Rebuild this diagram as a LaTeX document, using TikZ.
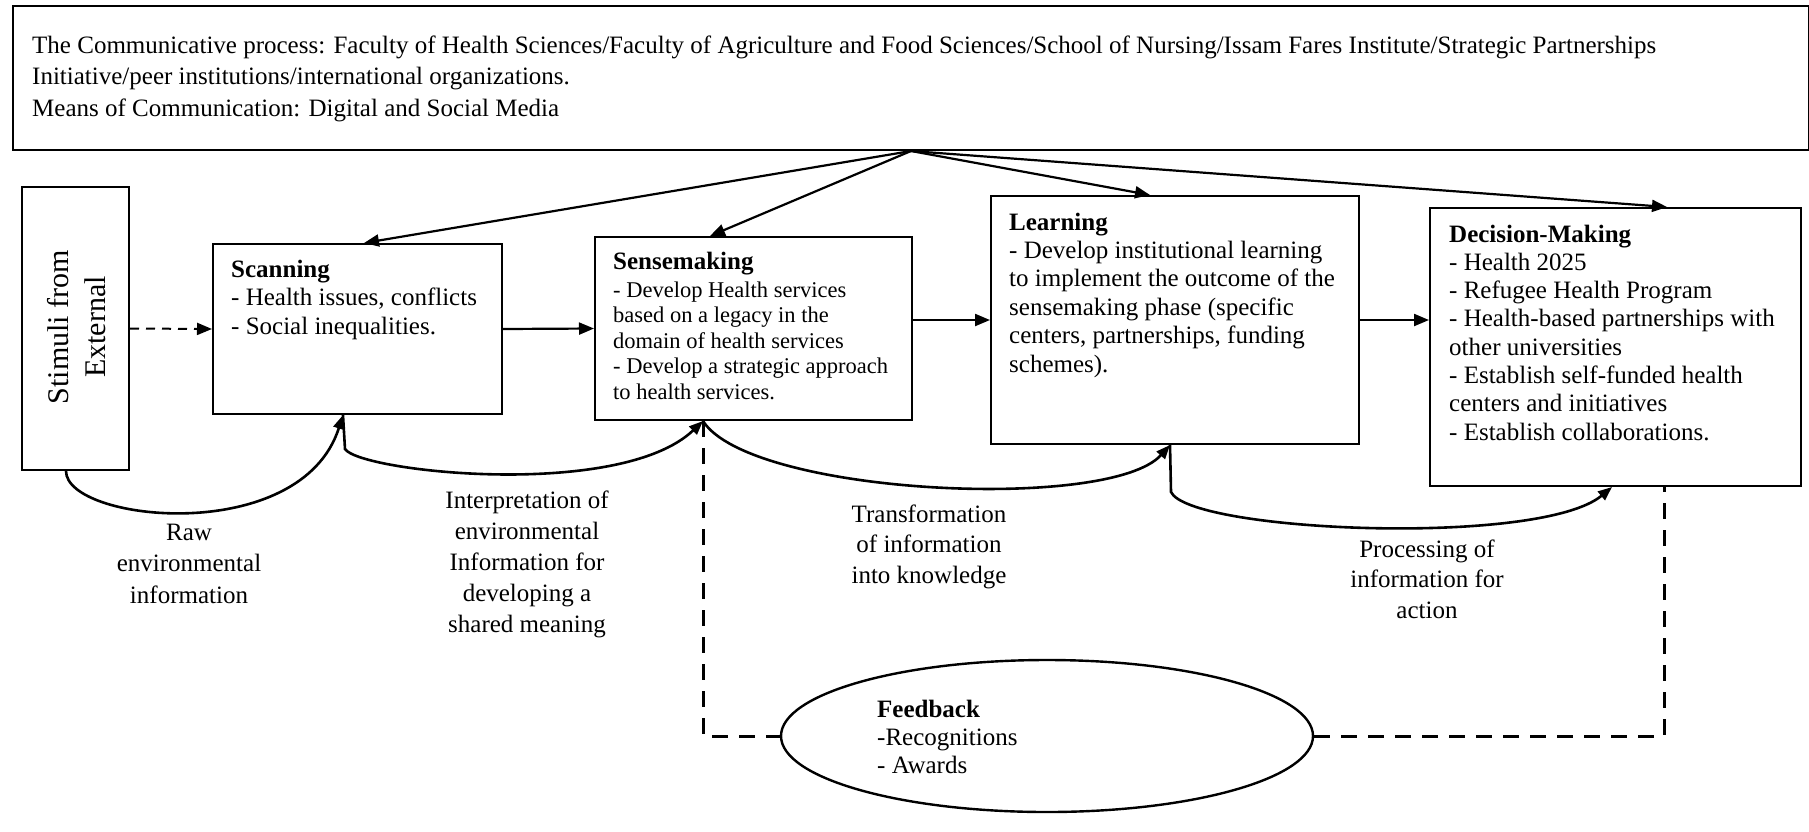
\documentclass[tikz,border=0pt]{standalone}
\usepackage{fontspec}
\setmainfont{Liberation Serif}
\usetikzlibrary{arrows.meta,calc,shapes.geometric}
% text block: size, baseline skip
\newcommand{\blockfont}[2]{\fontsize{#1}{#2}\selectfont\lineskiplimit=-100pt\relax}
\begin{document}
\begin{tikzpicture}[x=1pt,y=-1pt,
  box/.style={draw, line width=2pt, inner sep=0pt, anchor=north west},
  txt/.style={inner sep=0pt, anchor=base west},
  ctxt/.style={inner sep=0pt, anchor=base},
  tip/.style={-{Triangle[length=15pt,width=12pt]}},
  conn/.style={line width=2.2pt, tip},
  loop/.style={line width=2.6pt, -{Triangle[length=14pt,width=11pt]}},
  fbline/.style={line width=3pt, dash pattern=on 16pt off 11pt},
  stimarrow/.style={line width=2pt, dash pattern=on 9pt off 7pt, tip}]
\useasboundingbox (0,0) rectangle (1809,831);

% ---- boxes ----
\node[box, line width=2pt, minimum width=1796pt, minimum height=144pt] (comm) at (12,5) {};
\node[box, minimum width=107pt, minimum height=283pt] (stim) at (21,186) {};
\node[box, minimum width=289pt, minimum height=170pt] (scan) at (212,243) {};
\node[box, minimum width=317pt, minimum height=183pt] (sense) at (594,236) {};
\node[box, minimum width=368pt, minimum height=248pt] (learn) at (990,195) {};
\node[box, minimum width=371pt, minimum height=278pt] (dec) at (1429,207) {};
\node[draw, ellipse, line width=2.4pt, minimum width=532pt, minimum height=152pt, inner sep=0pt] (fbk) at (1047,736) {};

% ---- texts ----
\node[txt] (commtxt) at (32,53) {\parbox[t]{1770pt}{\raggedright\blockfont{25}{31.7}%
The Communicative process: Faculty of Health Sciences/Faculty of Agriculture and Food Sciences/School of Nursing/Issam Fares Institute/Strategic Partnerships\\
Initiative/peer institutions/international organizations.\\
Means of Communication: Digital and Social Media}};

\node[rotate=90, inner sep=0pt] (stimtxt) at (77,327) {\parbox{240pt}{\centering\blockfont{30}{37}Stimuli from\\External}};

\node[txt] (scantxt) at (231,277) {\parbox[t]{280pt}{\raggedright\blockfont{25}{28.5}%
\textbf{Scanning}\\
- Health issues, conflicts\\
- Social inequalities.}};

\node[txt] (sensetxt) at (613,269) {\parbox[t]{300pt}{\raggedright\blockfont{22.5}{25.5}%
{\fontsize{25}{25.5}\selectfont\textbf{Sensemaking}}\\[2.5pt]
- Develop Health services\\
based on a legacy in the\\
domain of health services\\
- Develop a strategic approach\\
to health services.}};

\node[txt] (learntxt) at (1009,230) {\parbox[t]{350pt}{\raggedright\blockfont{25}{28.4}%
\textbf{Learning}\\
- Develop institutional learning\\
to implement the outcome of the\\
sensemaking phase (specific\\
centers, partnerships, funding\\
schemes).}};

\node[txt] (dectxt) at (1449,242) {\parbox[t]{360pt}{\raggedright\blockfont{25}{28.3}%
\textbf{Decision-Making}\\
- Health 2025\\
- Refugee Health Program\\
- Health-based partnerships with\\
other universities\\
- Establish self-funded health\\
centers and initiatives\\
- Establish collaborations.}};

\node[txt] (fbtxt) at (877,717) {\parbox[t]{250pt}{\raggedright\blockfont{25}{28}%
\textbf{Feedback}\\
-Recognitions\\
- Awards}};

\node[ctxt] (rawlbl) at (189,540) {\parbox[t]{220pt}{\centering\blockfont{25}{31.5}%
Raw\\ environmental\\ information}};
\node[ctxt] (interlbl) at (527,508) {\parbox[t]{240pt}{\centering\blockfont{25}{31}%
Interpretation of\\ environmental\\ Information for\\ developing a\\ shared meaning}};
\node[ctxt] (translbl) at (929,522) {\parbox[t]{240pt}{\centering\blockfont{25}{30.5}%
Transformation\\ of information\\ into knowledge}};
\node[ctxt] (proclbl) at (1427,557) {\parbox[t]{240pt}{\centering\blockfont{25}{30.5}%
Processing of\\ information for\\ action}};

% ---- connection points ----
\coordinate (stimB) at ($(stim.south west)+(45,0)$);
\coordinate (scanB) at ($(scan.south west)+(131,0)$);
\coordinate (senseB) at ($(sense.south west)+(109,0)$);
\coordinate (learnB) at ($(learn.south west)+(180,0)$);
\coordinate (decB) at ($(dec.south west)+(183,0)$);
\coordinate (decD) at ($(dec.south west)+(235,0)$);

% ---- arrows from the communicative process ----
\draw[conn] (comm.south) -- ($(scan.north west)+(152,0)$);
\draw[conn] (comm.south) -- ($(sense.north west)+(116,0)$);
\draw[conn] (comm.south) -- ($(learn.north west)+(160,0)$);
\draw[conn] (comm.south) -- ($(dec.north west)+(238,0)$);

% ---- main flow ----
\draw[stimarrow] (stim.east) -- (scan.west);
\draw[conn] (scan.east) -- (sense.west);
\draw[conn] (sense.east |- learn.west) -- (learn.west);
\draw[conn] (learn.east |- learn.west) -- (learn.west -| dec.west);

% ---- information loops ----
\draw[loop] (stimB) .. controls +(0,51) and +(-42,132) .. (scanB);
\draw[loop] (scanB) -- ++(2,34) .. controls +(15,23) and +(-83,79) .. (senseB);
\draw[loop] (senseB) .. controls +(47,74) and +(-60,67) .. (learnB);
\draw[loop] (learnB) -- ++(1,47) .. controls +(19,40) and +(-72,60) .. (decB);

% ---- feedback ----
\draw[fbline] (senseB) |- (fbk.west);
\draw[fbline] (fbk.east) -| (decD);
\end{tikzpicture}
\end{document}
